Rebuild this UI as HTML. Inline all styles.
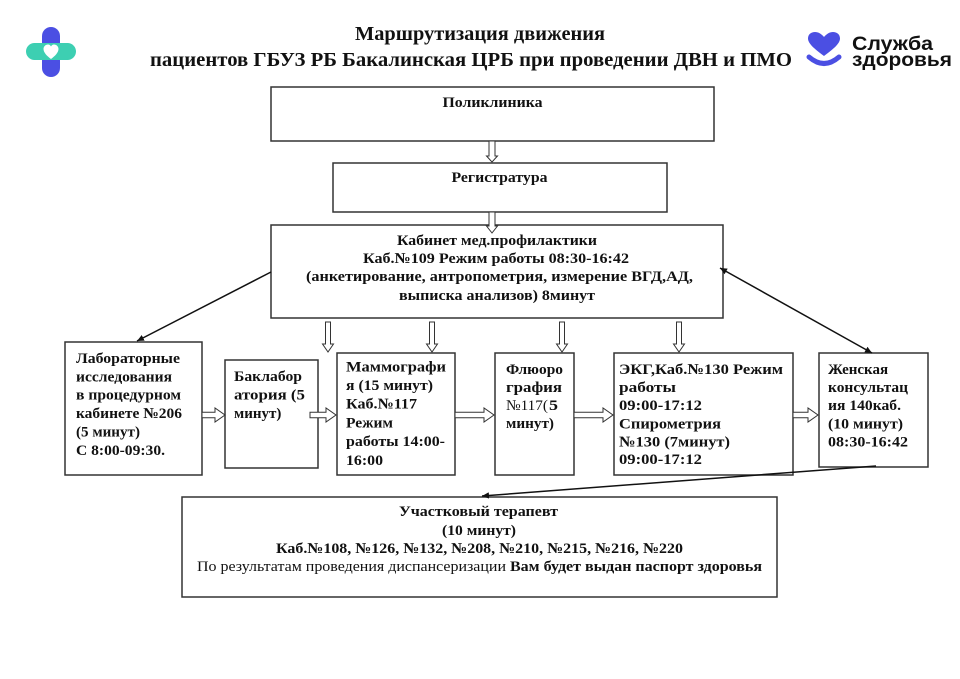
<!DOCTYPE html>
<html>
<head>
<meta charset="utf-8">
<style>
html,body{margin:0;padding:0;background:#fff;}
svg{display:block;}
text{font-family:"Liberation Serif","Noto Serif CJK SC",serif;fill:#111;}
.b{font-weight:bold;}
.t{font-size:15px;font-weight:bold;}
.box{fill:#fff;stroke:#333;stroke-width:1.5;}
.ha{fill:#fff;stroke:#333;stroke-width:1;}
.ln{stroke:#111;stroke-width:1.5;fill:none;}
.sans{font-family:"Liberation Sans",sans-serif;font-weight:bold;}
</style>
</head>
<body>
<svg width="960" height="679" viewBox="0 0 960 679" xmlns="http://www.w3.org/2000/svg">
<defs>
<marker id="ah" markerWidth="8" markerHeight="8" refX="7" refY="4" orient="auto" markerUnits="userSpaceOnUse">
<path d="M0,0.8 L7,4 L0,7.2 Z" fill="#111"/>
</marker>
<marker id="as" markerWidth="8" markerHeight="8" refX="0" refY="4" orient="auto" markerUnits="userSpaceOnUse">
<path d="M7,0.8 L0,4 L7,7.2 Z" fill="#111"/>
</marker>
</defs>
<rect x="0" y="0" width="960" height="679" fill="#fff"/>

<!-- Left logo -->
<rect x="42" y="27" width="18" height="50" rx="9" fill="#4b4fe3"/>
<rect x="26" y="43" width="50" height="17" rx="8.5" fill="#3dcfb2"/>
<path d="M51,59 C47,56 43.5,52.5 43.5,49 C43.5,46.5 45.5,44.5 48,44.5 C49.5,44.5 50.5,45.5 51,46.5 C51.5,45.5 52.5,44.5 54,44.5 C56.5,44.5 58.5,46.5 58.5,49 C58.5,52.5 55,56 51,59 Z" fill="#fff"/>

<!-- Title -->
<text x="480" y="40" text-anchor="middle" class="b" font-size="20" textLength="250" lengthAdjust="spacingAndGlyphs">Маршрутизация движения</text>
<text x="471" y="66" text-anchor="middle" class="b" font-size="20" textLength="642" lengthAdjust="spacingAndGlyphs">пациентов ГБУЗ РБ Бакалинская ЦРБ при проведении ДВН и ПМО</text>

<!-- Right logo -->
<path d="M824,56 C816,50 808,44 808,38.5 C808,34.5 811,32 815,32 C818.5,32 821.5,34 824,37 C826.5,34 829.5,32 833,32 C837,32 840,34.5 840,38.5 C840,44 832,50 824,56 Z" fill="#4b4fe3"/>
<path d="M809,57 Q824,70 839,57" stroke="#4b4fe3" stroke-width="5" fill="none" stroke-linecap="round"/>
<text x="852" y="50" class="sans" font-size="19" textLength="81" lengthAdjust="spacingAndGlyphs">Служба</text>
<text x="852" y="66" class="sans" font-size="19" textLength="100" lengthAdjust="spacingAndGlyphs">здоровья</text>

<!-- Поликлиника -->
<rect class="box" x="271" y="87" width="443" height="54"/>
<text x="492.5" y="107" text-anchor="middle" class="t" textLength="100" lengthAdjust="spacingAndGlyphs">Поликлиника</text>

<!-- Регистратура -->
<rect class="box" x="333" y="163" width="334" height="49"/>
<text x="499.5" y="182" text-anchor="middle" class="t" textLength="96" lengthAdjust="spacingAndGlyphs">Регистратура</text>

<!-- Кабинет -->
<rect class="box" x="271" y="225" width="452" height="93"/>
<text x="497" y="245" text-anchor="middle" class="t" textLength="200" lengthAdjust="spacingAndGlyphs">Кабинет мед.профилактики</text>
<text x="496" y="263" text-anchor="middle" class="t" textLength="266" lengthAdjust="spacingAndGlyphs">Каб.№109 Режим работы 08:30-16:42</text>
<text x="499.5" y="281" text-anchor="middle" class="t" textLength="387" lengthAdjust="spacingAndGlyphs">(анкетирование, антропометрия, измерение ВГД,АД,</text>
<text x="497" y="300" text-anchor="middle" class="t" textLength="196" lengthAdjust="spacingAndGlyphs">выписка анализов) 8минут</text>

<!-- hollow vertical arrows top -->
<polygon class="ha" points="489,141 495,141 495,156 497.5,156 492,162 486.5,156 489,156"/>
<polygon class="ha" points="489,212 495,212 495,226 497.5,226 492,233 486.5,226 489,226"/>

<!-- Lab -->
<rect class="box" x="65" y="342" width="137" height="133"/>
<text x="76" y="363" class="t" textLength="104" lengthAdjust="spacingAndGlyphs">Лабораторные</text>
<text x="76" y="381.3" class="t" textLength="96" lengthAdjust="spacingAndGlyphs">исследования</text>
<text x="76" y="399.6" class="t" textLength="105" lengthAdjust="spacingAndGlyphs">в процедурном</text>
<text x="76" y="418" class="t" textLength="106" lengthAdjust="spacingAndGlyphs">кабинете №206</text>
<text x="76" y="436.3" class="t" textLength="64" lengthAdjust="spacingAndGlyphs">(5 минут)</text>
<text x="76" y="455" class="t" textLength="89" lengthAdjust="spacingAndGlyphs">С 8:00-09:30.</text>

<!-- Баклаб -->
<rect class="box" x="225" y="360" width="93" height="108"/>
<text x="234" y="381" class="t" textLength="68" lengthAdjust="spacingAndGlyphs">Баклабор</text>
<text x="234" y="399.5" class="t" textLength="71" lengthAdjust="spacingAndGlyphs">атория (5</text>
<text x="234" y="418" class="t">минут)</text>

<!-- Маммография -->
<rect class="box" x="337" y="353" width="118" height="122"/>
<text x="346" y="371.5" class="t" textLength="100" lengthAdjust="spacingAndGlyphs">Маммографи</text>
<text x="346" y="390" class="t" textLength="87" lengthAdjust="spacingAndGlyphs">я (15 минут)</text>
<text x="346" y="408.5" class="t" textLength="71" lengthAdjust="spacingAndGlyphs">Каб.№117</text>
<text x="346" y="427.5" class="t" textLength="47" lengthAdjust="spacingAndGlyphs">Режим</text>
<text x="346" y="446" class="t" textLength="99" lengthAdjust="spacingAndGlyphs">работы 14:00-</text>
<text x="346" y="465" class="t" textLength="37" lengthAdjust="spacingAndGlyphs">16:00</text>

<!-- Флюорография -->
<rect class="box" x="495" y="353" width="79" height="122"/>
<text x="506" y="374" class="t" textLength="57" lengthAdjust="spacingAndGlyphs">Флюоро</text>
<text x="506" y="392" class="t" textLength="56" lengthAdjust="spacingAndGlyphs">графия</text>
<text x="506" y="410" font-size="15" textLength="42" lengthAdjust="spacingAndGlyphs">№117(</text>
<text x="549" y="410" class="t" textLength="9" lengthAdjust="spacingAndGlyphs">5</text>
<text x="506" y="428" class="t" textLength="48" lengthAdjust="spacingAndGlyphs">минут)</text>

<!-- ЭКГ -->
<rect class="box" x="614" y="353" width="179" height="122"/>
<text x="619" y="374" class="t" textLength="164" lengthAdjust="spacingAndGlyphs">ЭКГ,Каб.№130 Режим</text>
<text x="619" y="392" class="t" textLength="57" lengthAdjust="spacingAndGlyphs">работы</text>
<text x="619" y="410" class="t" textLength="83" lengthAdjust="spacingAndGlyphs">09:00-17:12</text>
<text x="619" y="428.5" class="t" textLength="102" lengthAdjust="spacingAndGlyphs">Спирометрия</text>
<text x="619" y="446.5" class="t" textLength="111" lengthAdjust="spacingAndGlyphs">№130 (7минут)</text>
<text x="619" y="464" class="t" textLength="83" lengthAdjust="spacingAndGlyphs">09:00-17:12</text>

<!-- Женская -->
<rect class="box" x="819" y="353" width="109" height="114"/>
<text x="828" y="374" class="t">Женская</text>
<text x="828" y="392" class="t" textLength="80" lengthAdjust="spacingAndGlyphs">консультац</text>
<text x="828" y="410" class="t" textLength="73" lengthAdjust="spacingAndGlyphs">ия 140каб.</text>
<text x="828" y="428.5" class="t" textLength="75" lengthAdjust="spacingAndGlyphs">(10 минут)</text>
<text x="828" y="446.5" class="t" textLength="80" lengthAdjust="spacingAndGlyphs">08:30-16:42</text>

<!-- hollow vertical arrows from Кабинет -->
<polygon class="ha" points="325.5,322 330.5,322 330.5,344 333.5,344 328,352 322.5,344 325.5,344"/>
<polygon class="ha" points="429.5,322 434.5,322 434.5,344 437.5,344 432,352 426.5,344 429.5,344"/>
<polygon class="ha" points="559.5,322 564.5,322 564.5,344 567.5,344 562,352 556.5,344 559.5,344"/>
<polygon class="ha" points="676.5,322 681.5,322 681.5,344 684.5,344 679,352 673.5,344 676.5,344"/>

<!-- hollow horizontal arrows -->
<polygon class="ha" points="202,412.3 215,412.3 215,408 225,415 215,422 215,417.7 202,417.7"/>
<polygon class="ha" points="310,412.3 326,412.3 326,408 336,415 326,422 326,417.7 310,417.7"/>
<polygon class="ha" points="455,412.3 484,412.3 484,408 494,415 484,422 484,417.7 455,417.7"/>
<polygon class="ha" points="574,412.3 603,412.3 603,408 613,415 603,422 603,417.7 574,417.7"/>
<polygon class="ha" points="793,412.3 808,412.3 808,408 818,415 808,422 808,417.7 793,417.7"/>

<!-- Участковый терапевт -->
<rect class="box" x="182" y="497" width="595" height="100"/>
<text x="478.5" y="516" text-anchor="middle" class="t" textLength="159" lengthAdjust="spacingAndGlyphs">Участковый терапевт</text>
<text x="479" y="535" text-anchor="middle" class="t" textLength="74" lengthAdjust="spacingAndGlyphs">(10 минут)</text>
<text x="479.5" y="553" text-anchor="middle" class="t" textLength="407" lengthAdjust="spacingAndGlyphs">Каб.№108, №126, №132, №208, №210, №215, №216, №220</text>
<text x="197" y="571" font-size="15" textLength="309" lengthAdjust="spacingAndGlyphs">По результатам проведения диспансеризации</text>
<text x="510" y="571" class="t" textLength="252" lengthAdjust="spacingAndGlyphs">Вам будет выдан паспорт здоровья</text>

<!-- solid connectors -->
<line class="ln" x1="271" y1="272" x2="137" y2="341" marker-end="url(#ah)"/>
<line class="ln" x1="720" y1="268" x2="872" y2="353" marker-start="url(#as)" marker-end="url(#ah)"/>
<line class="ln" x1="876" y1="466" x2="482" y2="496" marker-end="url(#ah)"/>
</svg>
</body>
</html>
